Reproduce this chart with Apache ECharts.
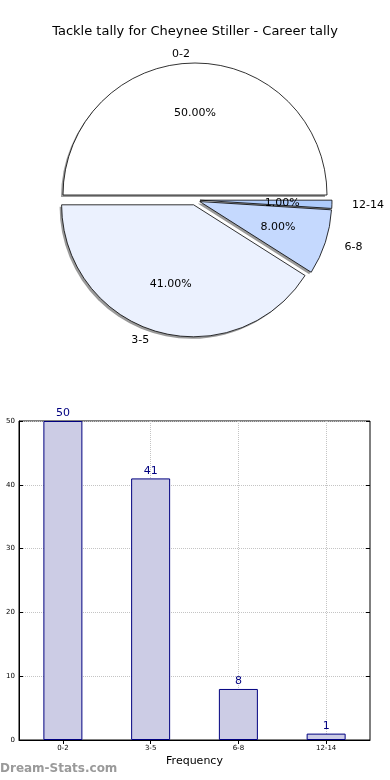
<!DOCTYPE html>
<html>
<head>
<meta charset="utf-8">
<script src="https://cdn.jsdelivr.net/npm/echarts@6/dist/echarts.min.js"></script>
<style>
html,body{margin:0;padding:0;background:#fff;}
#c{width:390px;height:780px;}
</style>
</head>
<body>
<div id="c"></div>
<script>
const categories = ['0-2', '3-5', '6-8', '12-14'];
const counts = [50, 41, 8, 1];
const pieColors = ['#ffffff', '#ebf1fe', '#c5d9fe', '#aecbfb'];
const yTicks = [0, 10, 20, 30, 40, 50];
const titleText = 'Tackle tally for Cheynee Stiller - Career tally';

const FONT = 'DejaVu Sans';
const chart = echarts.init(document.getElementById('c'), null, {renderer: 'canvas'});

const labelLen = [9, 9, 15, 15];
const pieShapeData = categories.map((c, i) => ({
  name: c, value: counts[i], selected: true,
  itemStyle: {color: pieColors[i]},
  labelLine: {length: labelLen[i], length2: 0, show: false}
}));
const pieShadowData = categories.map((c, i) => ({
  name: c, value: counts[i], selected: true
}));
const pieLabelData = categories.map((c, i) => ({
  name: c, value: counts[i], selected: true
}));

const R = 132;
const CX = 195, CY = 200;
const option = {
  backgroundColor: '#ffffff',
  animation: false,
  textStyle: {fontFamily: FONT},
  title: {
    text: titleText, left: 'center', top: 20,
    textStyle: {fontFamily: FONT, fontSize: 13, fontWeight: 'normal', color: '#000'}
  },
  graphic: [{
    type: 'text', left: 0, top: 763,
    style: {text: 'Dream-Stats.com', fill: '#9a9a9a', font: 'bold 12px "DejaVu Sans"'}
  }],
  grid: {left: 19, right: 20, top: 421, bottom: 40, show: true, borderColor: '#000', borderWidth: 1, backgroundColor: 'transparent'},
  xAxis: [{
    type: 'category', data: categories, position: 'bottom',
    axisLine: {show: true, lineStyle: {color: '#000'}},
    axisTick: {show: true, inside: true, length: 4, alignWithLabel: true, lineStyle: {color: '#000'}},
    axisLabel: {fontSize: 7, color: '#000', margin: 5, fontFamily: FONT},
    splitLine: {show: true, alignWithLabel: true, lineStyle: {type: 'dotted', color: '#c4c4c4', width: 1}},
    name: 'Frequency', nameLocation: 'middle', nameGap: 16,
    nameTextStyle: {fontSize: 11, color: '#000', fontFamily: FONT}
  }, {
    type: 'category', data: categories, position: 'top',
    axisLine: {show: false},
    axisTick: {show: true, inside: true, length: 4, alignWithLabel: true, lineStyle: {color: '#000'}},
    axisLabel: {show: false}, splitLine: {show: false}
  }],
  yAxis: [{
    type: 'value', min: 0, max: 50, interval: 10, position: 'left',
    axisLine: {show: true, lineStyle: {color: '#000'}},
    axisTick: {show: true, inside: true, length: 4, lineStyle: {color: '#000'}},
    axisLabel: {fontSize: 7, color: '#000', margin: 4, fontFamily: FONT},
    splitLine: {show: true, lineStyle: {type: 'dotted', color: '#c4c4c4', width: 1}}
  }, {
    type: 'value', min: 0, max: 50, interval: 10, position: 'right',
    axisLine: {show: false},
    axisTick: {show: true, inside: true, length: 4, lineStyle: {color: '#000'}},
    axisLabel: {show: false}, splitLine: {show: false}
  }],
  series: [{
    type: 'pie', name: 'shadow', z: 1,
    center: [CX - 2, CY + 2], radius: R,
    startAngle: 0, clockwise: false,
    selectedMode: 'multiple', selectedOffset: 5,
    avoidLabelOverlap: false, silent: true,
    itemStyle: {color: '#9a9a9a', borderWidth: 0},
    label: {show: false}, labelLine: {show: false},
    emphasis: {disabled: true},
    data: pieShadowData
  }, {
    type: 'pie', name: 'shapes', z: 2,
    center: [CX, CY], radius: R,
    startAngle: 0, clockwise: false,
    selectedMode: 'multiple', selectedOffset: 5,
    avoidLabelOverlap: false,
    silent: true,
    itemStyle: {borderColor: '#000', borderWidth: 0.8},
    label: {show: true, position: 'outside', formatter: '{b}', fontSize: 11, color: '#000', fontFamily: FONT},
    labelLine: {show: false, length: 9, length2: 0},
    emphasis: {disabled: true},
    data: pieShapeData
  }, {
    type: 'pie', name: 'pct', z: 3,
    center: [CX, CY], radius: R * 1.2,
    startAngle: 0, clockwise: false,
    selectedMode: 'multiple', selectedOffset: 5,
    avoidLabelOverlap: false,
    silent: true,
    itemStyle: {color: 'rgba(0,0,0,0)', borderWidth: 0},
    label: {show: true, position: 'inside', fontSize: 11, color: '#000', fontFamily: FONT,
      formatter: p => p.percent.toFixed(2) + '%'},
    labelLine: {show: false},
    emphasis: {disabled: true},
    data: pieLabelData
  }, {
    type: 'bar', xAxisIndex: 0, yAxisIndex: 0,
    data: counts, barWidth: 39,
    itemStyle: {color: '#cccce5', borderColor: '#000080', borderWidth: 1},
    label: {show: true, position: 'top', distance: 2, fontSize: 11, color: '#000080', fontFamily: FONT},
    emphasis: {disabled: true}
  }]
};
chart.setOption(option);
</script>
</body>
</html>
